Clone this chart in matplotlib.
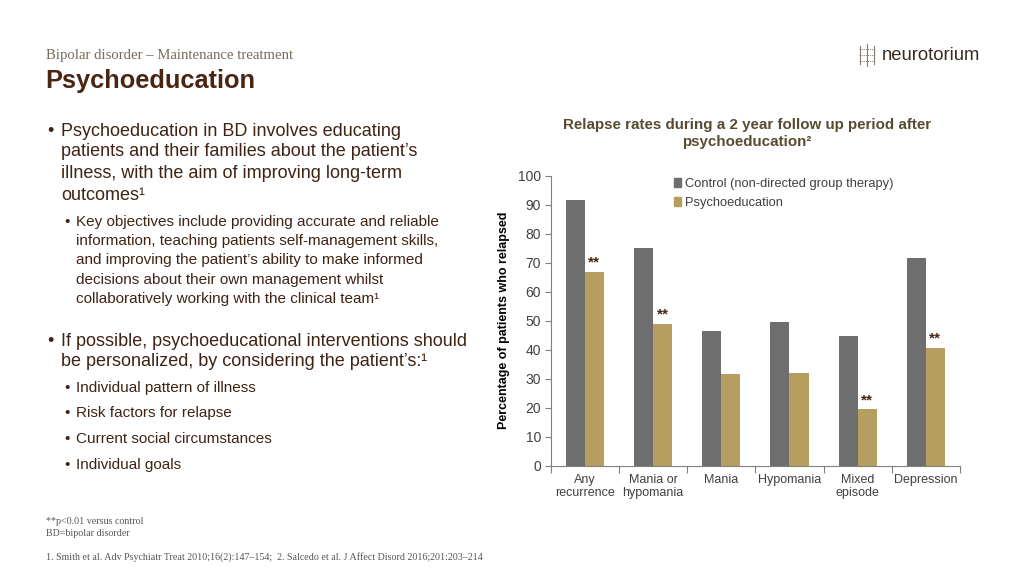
import matplotlib
matplotlib.use("Agg")
import matplotlib.pyplot as plt
import numpy as np
from matplotlib.patches import Patch

categories = ["Any\nrecurrence", "Mania or\nhypomania", "Mania", "Hypomania", "Mixed\nepisode", "Depression"]
control = [91.7, 75.0, 46.3, 49.7, 44.7, 71.5]
psychoeducation = [66.7, 49.0, 31.5, 32.1, 19.4, 40.6]
significant = [True, True, False, False, True, True]
series_names = ["Control (non-directed group therapy)", "Psychoeducation"]
yticks = [0, 10, 20, 30, 40, 50, 60, 70, 80, 90, 100]

C_CTRL = "#6e6e6e"
C_PSY = "#b59e5f"
BROWN = "#3f2314"
TICK = "#404040"

plt.rcParams['font.family'] = ['Liberation Sans', 'DejaVu Sans']

fig = plt.figure(figsize=(10.24, 5.76), dpi=100)
W, H = 1024, 576
def fx(x): return x / W
def fy(y): return 1 - y / H

# Header
fig.text(fx(46), fy(55), "Bipolar disorder – Maintenance treatment", family="Liberation Serif",
         fontsize=10.6, color="#7a6b58", va="center", ha="left")
fig.text(fx(45), fy(81), "Psychoeducation", fontsize=18.3, fontweight="bold", color="#4a2511",
         va="center", ha="left")
fig.text(fx(882), fy(55), "neurotorium", fontsize=13.3, color="#3a2a20", va="center", ha="left")
# simple brain-like icon
for dx in [-1, 1]:
    fig.add_artist(plt.Line2D([fx(867 + dx * 7), fx(867 + dx * 7)], [fy(46), fy(64)], color="#8a7a70", lw=0.8))
fig.add_artist(plt.Line2D([fx(867), fx(867)], [fy(44), fy(66)], color="#8a7a70", lw=0.8))
for yy in [49, 55, 61]:
    fig.add_artist(plt.Line2D([fx(859), fx(875)], [fy(yy), fy(yy)], color="#8a7a70", lw=0.6, ls=(0, (1.5, 1))))

# Bullets
main_fs = 13
sub_fs = 11
def bullet(x_b, x_t, y, text, fs):
    fig.text(fx(x_b), fy(y), "•", fontsize=fs, color=BROWN, va="center", ha="left")
    fig.text(fx(x_t), fy(y), text, fontsize=fs, color=BROWN, va="center", ha="left")

def line(x_t, y, text, fs):
    fig.text(fx(x_t), fy(y), text, fontsize=fs, color=BROWN, va="center", ha="left")

bullet(47, 61, 131, "Psychoeducation in BD involves educating", main_fs)
line(61, 152, "patients and their families about the patient’s", main_fs)
line(61, 174, "illness, with the aim of improving long-term", main_fs)
line(61, 196, "outcomes¹", main_fs)

bullet(64, 76, 222, "Key objectives include providing accurate and reliable", sub_fs)
line(76, 241, "information, teaching patients self-management skills,", sub_fs)
line(76, 260, "and improving the patient’s ability to make informed", sub_fs)
line(76, 280, "decisions about their own management whilst", sub_fs)
line(76, 299, "collaboratively working with the clinical team¹", sub_fs)

bullet(47, 61, 341, "If possible, psychoeducational interventions should", main_fs)
line(61, 362, "be personalized, by considering the patient’s:¹", main_fs)

bullet(64, 76, 388, "Individual pattern of illness", sub_fs)
bullet(64, 76, 413, "Risk factors for relapse", sub_fs)
bullet(64, 76, 439, "Current social circumstances", sub_fs)
bullet(64, 76, 465, "Individual goals", sub_fs)

# Footnotes
fn_kw = dict(family="Liberation Serif", fontsize=7.2, color="#555555", va="center", ha="left")
fig.text(fx(46), fy(522), "**p<0.01 versus control", **fn_kw)
fig.text(fx(46), fy(534), "BD=bipolar disorder", **fn_kw)
fig.text(fx(46), fy(557), "1. Smith et al. Adv Psychiatr Treat 2010;16(2):147–154;  2. Salcedo et al. J Affect Disord 2016;201:203–214", **fn_kw)

# Chart title
fig.text(fx(747), fy(125), "Relapse rates during a 2 year follow up period after", fontsize=10.9,
         fontweight="bold", color="#5a4a30", ha="center", va="center")
fig.text(fx(747), fy(142), "psychoeducation²", fontsize=10.9,
         fontweight="bold", color="#5a4a30", ha="center", va="center")

# Axes
left, right, bottom, top = 550.7, 960, 465.7, 175.7
ax = fig.add_axes([fx(left), fy(bottom), (right - left) / W, (bottom - top) / H])
x = np.arange(len(categories))
bw = 0.28
ax.bar(x - bw / 2, control, width=bw, color=C_CTRL, label=series_names[0])
ax.bar(x + bw / 2, psychoeducation, width=bw, color=C_PSY, label=series_names[1])
for i, (v, s) in enumerate(zip(psychoeducation, significant)):
    if s:
        ax.text(x[i] + bw / 2, v + 0.8, "**", ha="center", va="bottom", fontsize=11,
                fontweight="bold", color="#4a2511")

ax.set_xlim(-0.5, len(categories) - 0.5)
ax.set_ylim(0, 100)
ax.set_yticks(yticks)
ax.tick_params(axis="y", direction="out", length=4, width=0.8, colors="#808080", labelcolor=TICK,
               labelsize=10, pad=3)
ax.set_xticks(x)
ax.set_xticklabels(categories, fontsize=9, color=TICK, linespacing=1.1)
ax.tick_params(axis="x", which="major", length=0, pad=6)
ax.set_xticks(np.arange(-0.5, len(categories), 1.0), minor=True)
ax.tick_params(axis="x", which="minor", direction="out", length=5, width=0.8, colors="#808080")
for s in ["top", "right"]:
    ax.spines[s].set_visible(False)
for s in ["left", "bottom"]:
    ax.spines[s].set_color("#808080")
    ax.spines[s].set_linewidth(0.8)
ax.set_ylabel("Percentage of patients who relapsed", fontsize=9, fontweight="bold", color="#000000",
              labelpad=6)

handles = [Patch(color=C_CTRL), Patch(color=C_PSY)]
leg = ax.legend(handles, series_names, loc="upper left", bbox_to_anchor=(0.288, 1.01), frameon=False,
                fontsize=9.3, handlelength=0.6, handleheight=0.6, handletextpad=0.3, labelspacing=0.55,
                borderaxespad=0)
for t in leg.get_texts():
    t.set_color(TICK)

fig.savefig("out.png", dpi=100, facecolor="white")
